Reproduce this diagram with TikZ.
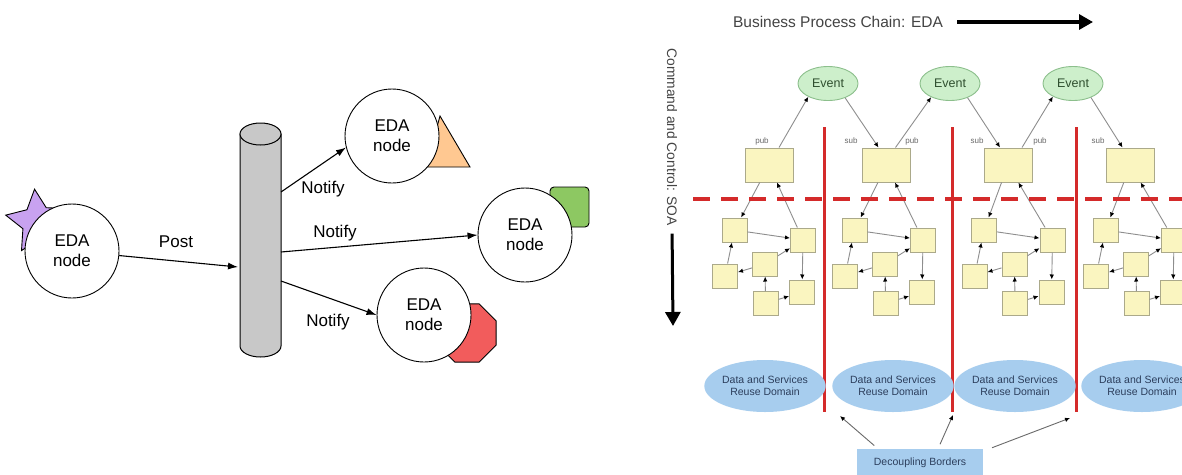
\documentclass[tikz,border=0pt]{standalone}
\usepackage{fontspec}
\setmainfont{Liberation Sans}
\usetikzlibrary{shapes.geometric,arrows.meta,calc}
\definecolor{starpurple}{HTML}{C8A2F0}
\definecolor{triorange}{HTML}{FFC891}
\definecolor{sqgreen}{HTML}{8DC862}
\definecolor{octred}{HTML}{F25C5C}
\definecolor{cylgray}{HTML}{C8C8C8}
\definecolor{evfill}{HTML}{CDEFCB}
\definecolor{evborder}{HTML}{8CBF8C}
\definecolor{evtext}{HTML}{2F4F2F}
\definecolor{yfill}{HTML}{FAF5C0}
\definecolor{yborder}{HTML}{ABA98A}
\definecolor{redline}{HTML}{D42A2A}
\definecolor{bluefill}{HTML}{A7CDEE}
\definecolor{bluetext}{HTML}{2C3E5C}
\definecolor{graytext}{HTML}{444444}
\definecolor{conngray}{HTML}{8E8E8E}
\tikzset{
  edanode/.style={circle, draw=black, fill=white, line width=0.9pt, minimum size=94pt, inner sep=0pt, align=center, font=\fontsize{17}{20}\selectfont},
  conn/.style={line width=1.1pt, -{Latex[length=10pt,width=7pt]}},
  lbl/.style={font=\fontsize{17}{20}\selectfont, inner sep=0pt},
  bigarrow/.style={line width=3.2pt, -{Triangle[length=14pt,width=15pt]}},
  event/.style={ellipse, draw=evborder, fill=evfill, line width=0.9pt, minimum width=60pt, minimum height=34pt, inner sep=0pt, text=evtext, font=\fontsize{12.5}{14}\selectfont},
  bigbox/.style={rectangle, draw=yborder, fill=yfill, line width=1pt, minimum width=48pt, minimum height=34pt, inner sep=0pt},
  smallbox/.style={rectangle, draw=yborder, fill=yfill, line width=1pt, minimum width=25pt, minimum height=24pt, inner sep=0pt},
  sconn/.style={draw=conngray, line width=0.9pt, -{Latex[length=5pt,width=4.5pt,color=black]}},
  redsolid/.style={draw=redline, line width=3pt},
  reddash/.style={draw=redline, line width=3.2pt, dash pattern=on 17pt off 11pt},
  reusedom/.style={ellipse, fill=bluefill, minimum width=100pt, minimum height=52pt, inner sep=0pt, align=center, text=bluetext, font=\fontsize{10.5}{12}\selectfont},
  decbox/.style={rectangle, fill=bluefill, minimum width=126pt, minimum height=28pt, inner sep=0pt, text=bluetext, font=\fontsize{10.5}{12}\selectfont},
  pubsub/.style={font=\fontsize{8}{9}\selectfont, text=graytext!80, inner sep=0pt},
}
\begin{document}
\begin{tikzpicture}[x=1pt,y=-1pt]
\useasboundingbox (0,0) rectangle (1182,474);
\clip (0,0) rectangle (1182,474);
\fill[white] (0,0) rectangle (1182,474);

% ---------------- left diagram ----------------
\node[star, star points=5, star point ratio=2.0, minimum size=66pt, inner sep=0pt, fill=starpurple, draw=black, line width=0.9pt, rotate=6] (star) at (38,222) {};
\node[edanode] (src) at (72,251) {EDA\\node};

% cylinder
\node[minimum width=41pt, minimum height=224pt, inner sep=0pt] (bus) at (260.5,240) {};
\filldraw[fill=cylgray, draw=black, line width=1pt] (240,134) -- (240,346) arc[start angle=180, end angle=360, x radius=20.5pt, y radius=11pt] -- (281,134) -- cycle;
\filldraw[fill=cylgray, draw=black, line width=1pt] (260.5,134) ellipse [x radius=20.5pt, y radius=11pt];

% decorations behind the nodes
\filldraw[fill=triorange, draw=black, line width=0.9pt] (440,116) -- (470,167) -- (426,167) -- cycle;
\filldraw[fill=sqgreen, draw=black, line width=0.9pt, rounded corners=4pt] (550,187) rectangle (589,227);
\node[regular polygon, regular polygon sides=8, minimum size=63pt, inner sep=0pt, fill=octred, draw=black, line width=0.9pt] (oct) at (467,333) {};

\node[edanode] (t1) at (392,136) {EDA\\node};
\node[edanode] (m1) at (525,235) {EDA\\node};
\node[edanode] (bt) at (424,315) {EDA\\node};

\coordinate (postend) at (238,267);
\coordinate (n1) at (281,192);
\coordinate (n2) at (281,252);
\coordinate (n3) at (281,281);
\draw[conn] (src) -- (postend);
\draw[conn] (n1) -- (t1.194);
\draw[conn] (n2) -- (m1.west);
\draw[conn] (n3) -- (bt.west);
\node[lbl] at (176,242) {Post};
\node[lbl] at (323,189) {Notify};
\node[lbl] at (335,233) {Notify};
\node[lbl] at (328,322) {Notify};

% ---------------- right diagram ----------------
\node[font=\fontsize{15.5}{17}\selectfont, text=graytext, inner sep=0pt] (ttl) at (838,22) {Business Process Chain: EDA};
\coordinate (ta) at (1093,22);
\draw[bigarrow] ([xshift=14pt]ttl.east) -- (ta);

\node[rotate=-90, font=\fontsize{13.8}{16}\selectfont, text=graytext, inner sep=0pt] (cc) at (672,137) {Command and Control: SOA};
\coordinate (va) at (673,326);
\draw[bigarrow, line width=3pt, shorten <=8pt] (cc.east) -- (va);

% events
\node[event] (e1) at (828,83.5) {Event};
\node[event] (e2) at (950,83.5) {Event};
\node[event] (e3) at (1073,83.5) {Event};

% process groups
\foreach \i/\bx/\ax in {1/769/734.5, 2/886.5/854.5, 3/1008/984, 4/1130.5/1105.5}{
  \node[bigbox] (b\i) at (\bx,165) {};
  \node[smallbox] (a\i) at (\ax,230) {};
  \node[smallbox] (bb\i) at ({\ax+68.5},240) {};
  \node[smallbox] (c\i) at ({\ax+30.5},264) {};
  \node[smallbox] (d\i) at ({\ax-9.5},276) {};
  \node[smallbox] (ee\i) at ({\ax+67.5},292) {};
  \node[smallbox] (f\i) at ({\ax+31},303.5) {};
  \draw[sconn] (b\i) -- (a\i);
  \draw[sconn] (bb\i) -- (b\i);
  \draw[sconn] (a\i) -- (bb\i);
  \draw[sconn] (d\i) -- (a\i);
  \draw[sconn] (c\i) -- (d\i);
  \draw[sconn] (c\i) -- (bb\i);
  \draw[sconn] (bb\i) -- (ee\i);
  \draw[sconn] (f\i) -- (c\i);
  \draw[sconn] (f\i) -- (ee\i);
}

% pub / sub
\draw[sconn] ([xshift=10pt]b1.north) -- (e1.214);
\draw[sconn] (e1.320) -- ([xshift=-8pt]b2.north);
\draw[sconn] ([xshift=9pt]b2.north) -- (e2.216);
\draw[sconn] (e2.321) -- ([xshift=-8pt]b3.north);
\draw[sconn] ([xshift=14pt]b3.north) -- (e3.213);
\draw[sconn] (e3.322) -- ([xshift=-8pt]b4.north);
\node[pubsub] at (762,141) {pub};
\node[pubsub] at (851,141) {sub};
\node[pubsub] at (912,141) {pub};
\node[pubsub] at (977,141) {sub};
\node[pubsub] at (1040,141) {pub};
\node[pubsub] at (1098,141) {sub};

% borders
\draw[reddash] (693,199) -- (1190,199);
\foreach \x in {824,952,1076}{
  \draw[redsolid] (\x,127) -- (\x,412);
}

% domains
\node[reusedom] (d1x) at (765,386) {Data and Services\\Reuse Domain};
\node[reusedom] (d2x) at (893,386) {Data and Services\\Reuse Domain};
\node[reusedom] (d3x) at (1015,386) {Data and Services\\Reuse Domain};
\node[reusedom] (d4x) at (1142,386) {Data and Services\\Reuse Domain};

\node[decbox] (dec) at (920,463) {Decoupling Borders};
\coordinate (bd1) at (840,416);
\coordinate (bd2) at (953,415);
\coordinate (bd3) at (1070,418);
\draw[sconn, draw=graytext!80, shorten <=5pt] ([xshift=-42pt]dec.north) -- (bd1);
\draw[sconn, draw=graytext!80, shorten <=5pt] ([xshift=18pt]dec.north) -- (bd2);
\draw[sconn, draw=graytext!80, shorten <=3pt] ([xshift=6pt]dec.north east) -- (bd3);
\end{tikzpicture}
\end{document}
